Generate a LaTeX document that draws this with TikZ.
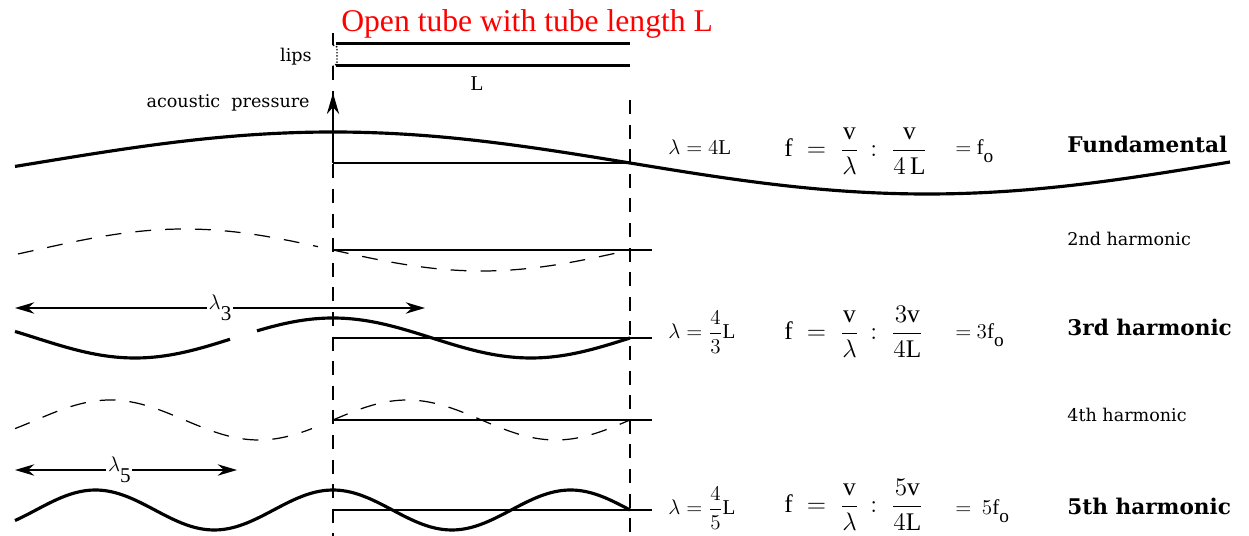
\documentclass[tikz,border=0pt]{standalone}
\usepackage{fontspec}
\usepackage{amsmath}
\setmainfont{Liberation Serif}
\newfontfamily\slab{DejaVu Serif}
\usetikzlibrary{arrows.meta}

\newcommand{\fo}[1]{$#1\mathrm{f}$\raisebox{-0.8ex}{\fontsize{11}{12}\selectfont o}}

\begin{document}
\begin{tikzpicture}[x=0.02cm, y=-0.02cm]
% Styles
\tikzstyle{title} = [text=red, font=\fontsize{18}{20}\selectfont, inner sep=0pt, anchor=base west]
\tikzstyle{small} = [font=\slab\fontsize{10}{12}\selectfont, inner sep=0pt, anchor=base east]
\tikzstyle{harm} = [font=\slab\fontsize{10}{12}\selectfont, inner sep=0pt, anchor=base west]
\tikzstyle{harmbold} = [font=\slab\bfseries\fontsize{12.3}{14}\selectfont, inner sep=0pt, anchor=base west]
\tikzstyle{fml} = [font=\fontsize{12}{14}\selectfont, inner sep=0pt, anchor=base west]
\tikzstyle{fmlbig} = [font=\fontsize{14.4}{17}\selectfont, inner sep=0pt, anchor=base west]
\tikzstyle{lamlabel} = [font=\fontsize{12}{14}\selectfont, fill=white, inner sep=1pt]
\tikzstyle{guide} = [line width=1pt, dash pattern=on 8pt off 6pt]
\tikzstyle{tube} = [line width=1.7pt]
\tikzstyle{axis} = [line width=0.8pt]
\tikzstyle{wave} = [line width=1.8pt, smooth, samples=90]
\tikzstyle{ghost} = [line width=0.7pt, dash pattern=on 9pt off 8pt, smooth, samples=90]
\tikzstyle{arrow} = [line width=0.8pt, ->, >={Stealth[length=12pt,width=7pt]}]
\tikzstyle{span} = [line width=0.8pt, <->, >={Stealth[length=11pt,width=6.5pt]}]

\useasboundingbox (0,0) rectangle (1249,536);

% Tube and lips
\node (title) [title] at (341,32) {Open tube with tube length L};
\draw [tube] (336,44) -- (630,44);
\draw [tube] (336,66) -- (630,66);
\node (lips) [small] at (312,62) {lips};
\node (len) [fml, anchor=base] at (477,91) {L};
\node (pressure) [small] at (310,108) {acoustic\ \ pressure};

\draw [guide] (333,33) -- (333,45);
\draw [densely dotted, line width=0.8pt] (333,45) -- (337,47) -- (337,64) -- (333,66);
\draw [guide] (333,66) -- (333,536);
\draw [guide] (630,100) -- (630,536);

% Axes
\coordinate (origin) at (333,163);
\coordinate (ptop) at (333,93);
\draw [arrow] (origin) -- (ptop);
\draw [axis] (origin) -- (630,163);
\draw [axis] (333,250) -- (652,250);
\draw [axis] (333,338) -- (652,338);
\draw [axis] (333,420) -- (652,420);
\draw [axis] (333,510) -- (652,510);

% Wavelength spans
\coordinate (l3a) at (15,308);
\coordinate (l3b) at (425,308);
\draw [span] (l3a) -- node[lamlabel, pos=0.5] (lam3) {$\lambda$\raisebox{-1.1ex}{3}} (l3b);
\coordinate (l5a) at (15,470);
\coordinate (l5b) at (237,470);
\draw [span] (l5a) -- node[lamlabel, pos=0.47] (lam5) {$\lambda$\raisebox{-1.1ex}{5}} (l5b);

% Standing waves
\draw [wave] plot[domain=15:1230] (\x,{163-31*cos((\x-333)/1188*360)});
\draw [ghost] plot[domain=18:318] (\x,{250+21*sin((\x-333)/594*360)});
\draw [ghost] plot[domain=333:630] (\x,{250+21*sin((\x-333)/594*360)});
\draw [wave] plot[domain=15:230] (\x,{338-20*cos((\x-333)/396*360)});
\draw [wave] plot[domain=257:630] (\x,{338-20*cos((\x-333)/396*360)});
\draw [ghost] plot[domain=15:312] (\x,{420-20*sin((\x-333)/297*360)});
\draw [ghost] plot[domain=333:630] (\x,{420-20*sin((\x-333)/297*360)});
\draw [wave] plot[domain=15:630] (\x,{510-20*cos((\x-333)/237.6*360)});

% Formulas
\node (r1a) [fml] at (668,155) {$\lambda = 4\mathrm{L}$};
\node (r1b) [fmlbig] at (784,157) {$\mathrm{f} \;=\; \dfrac{\mathrm{v}}{\lambda}$};
\node (r1c) [fmlbig] at (870,157) {${:}\;\; \dfrac{\mathrm{v}}{4\,\mathrm{L}}$};
\node (r1d) [fml] at (955,155) {$=$\ \fo{}};

\node (r3a) [fml] at (668,339) {$\lambda = \dfrac{4}{3}\mathrm{L}$};
\node (r3b) [fmlbig] at (784,340) {$\mathrm{f} \;=\; \dfrac{\mathrm{v}}{\lambda}$};
\node (r3c) [fmlbig] at (870,340) {${:}\;\; \dfrac{3\mathrm{v}}{4\mathrm{L}}$};
\node (r3d) [fml] at (955,339) {$=$\ \fo{3}};

\node (r5a) [fml] at (668,515) {$\lambda = \dfrac{4}{5}\mathrm{L}$};
\node (r5b) [fmlbig] at (784,513) {$\mathrm{f} \;=\; \dfrac{\mathrm{v}}{\lambda}$};
\node (r5c) [fmlbig] at (870,513) {${:}\;\; \dfrac{5\mathrm{v}}{4\mathrm{L}}$};
\node (r5d) [fml] at (955,515) {$=$\ \ \fo{5}};

% Harmonic names
\node (h1) [harmbold] at (1067,153) {Fundamental};
\node (h2) [harm] at (1067,246) {2nd harmonic};
\node (h3) [harmbold] at (1067,336) {3rd harmonic};
\node (h4) [harm] at (1067,422) {4th harmonic};
\node (h5) [harmbold] at (1067,515) {5th harmonic};

\end{tikzpicture}
\end{document}
